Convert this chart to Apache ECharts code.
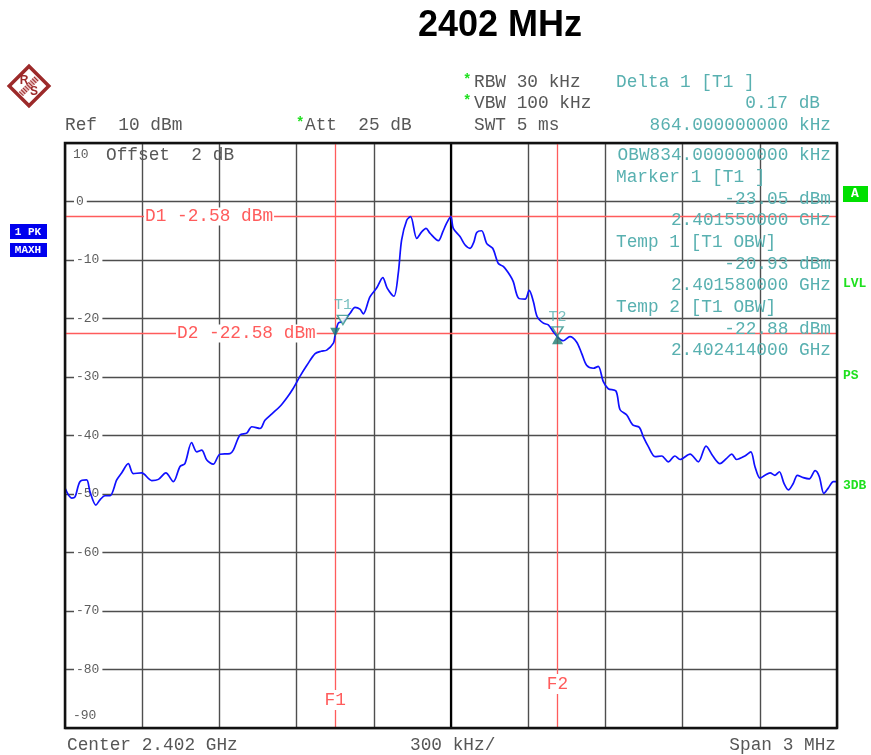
<!DOCTYPE html>
<html>
<head>
<meta charset="utf-8">
<title>2402 MHz</title>
<script src="https://cdn.jsdelivr.net/npm/echarts@6/dist/echarts.min.js"></script>
<style>
  html, body { margin: 0; padding: 0; background: #fff; }
  #main { width: 871px; height: 755px; }
</style>
</head>
<body>
<div id="main"></div>
<script>
// trace (frequency in MHz, level in dBm)
var freqMHz = [
  2400.500, 2400.526, 2400.539, 2400.558, 2400.584, 2400.597, 2400.620, 2400.636, 2400.655, 2400.675,
  2400.701, 2400.720, 2400.746, 2400.765, 2400.798, 2400.837, 2400.863, 2400.892, 2400.921, 2400.947,
  2400.966, 2400.992, 2401.012, 2401.031, 2401.051, 2401.076, 2401.102, 2401.141, 2401.154, 2401.180,
  2401.206, 2401.226, 2401.258, 2401.277, 2401.304, 2401.336, 2401.363, 2401.386, 2401.413, 2401.440,
  2401.472, 2401.495, 2401.517, 2401.543, 2401.549, 2401.562, 2401.581, 2401.608, 2401.627, 2401.646,
  2401.659, 2401.685, 2401.711, 2401.735, 2401.752, 2401.778, 2401.795, 2401.808, 2401.828, 2401.843,
  2401.867, 2401.886, 2401.903, 2401.918, 2401.951, 2401.968, 2401.983, 2401.999, 2402.009, 2402.035,
  2402.054, 2402.074, 2402.089, 2402.100, 2402.119, 2402.139, 2402.162, 2402.184, 2402.203, 2402.229,
  2402.242, 2402.262, 2402.288, 2402.304, 2402.320, 2402.335, 2402.359, 2402.378, 2402.398, 2402.417,
  2402.436, 2402.462, 2402.488, 2402.508, 2402.527, 2402.553, 2402.572, 2402.592, 2402.611, 2402.641,
  2402.657, 2402.683, 2402.706, 2402.732, 2402.747, 2402.767, 2402.793, 2402.819, 2402.844, 2402.870,
  2402.890, 2402.929, 2402.961, 2402.991, 2403.019, 2403.045, 2403.071, 2403.091, 2403.110, 2403.142,
  2403.165, 2403.181, 2403.201, 2403.220, 2403.240, 2403.259, 2403.276, 2403.294, 2403.311, 2403.330,
  2403.346, 2403.369, 2403.392, 2403.415, 2403.431, 2403.449, 2403.466, 2403.486, 2403.499
];
var levelDbm = [
  -49.0, -50.7, -50.5, -47.9, -47.6, -49.6, -51.9, -51.0, -50.3, -50.3,
  -47.6, -46.4, -44.8, -46.5, -46.4, -47.7, -47.5, -46.4, -47.9, -45.3,
  -44.8, -41.2, -42.8, -42.5, -44.2, -44.9, -43.2, -43.1, -42.5, -39.9,
  -39.6, -38.5, -38.8, -37.4, -36.3, -35.0, -33.5, -32.0, -29.9, -28.0,
  -26.0, -25.6, -25.4, -24.2, -23.0, -20.8, -20.5, -19.1, -18.1, -18.4,
  -19.2, -16.3, -14.8, -13.0, -14.8, -16.2, -12.3, -6.6, -3.2, -2.6,
  -6.3, -5.2, -4.6, -5.4, -6.7, -5.2, -3.7, -2.6, -4.6, -6.0,
  -7.4, -8.0, -6.9, -5.3, -5.0, -7.2, -8.0, -10.6, -11.1, -12.6,
  -13.7, -16.5, -16.7, -15.2, -17.1, -19.7, -20.8, -21.1, -22.3, -23.3,
  -23.8, -23.1, -24.0, -26.0, -28.0, -28.5, -28.2, -30.8, -32.0, -32.4,
  -35.6, -36.5, -38.2, -38.6, -40.2, -41.9, -43.6, -43.5, -44.5, -43.5,
  -44.1, -43.2, -44.5, -41.8, -43.6, -44.8, -43.9, -43.2, -44.1, -43.5,
  -42.8, -45.3, -47.3, -46.8, -46.4, -46.8, -46.2, -48.2, -49.3, -48.2,
  -46.8, -47.2, -47.4, -46.0, -47.0, -49.9, -49.0, -47.9, -47.9
];

// screen settings
var centerMHz = 2402;
var spanKHz = 3000;
var divKHz = 300;
var refDbm = 10;
var bottomDbm = -90;
var divDb = 10;

// display lines / frequency lines / markers
var displayLines = [-2.58, -22.58];
var displayNames = ['D1 -2.58 dBm', 'D2 -22.58 dBm'];
var freqLines = [2401.550, 2402.414];
var freqNames = ['F1', 'F2'];
var marker1 = [2401.550, -23.05];
var temp1 = [2401.580, -20.93];
var temp2 = [2402.414, -22.88];

// marker info block (upper right)
var infoLeft = ['', 'Marker 1 [T1 ]', '', '', 'Temp 1 [T1 OBW]', '', '', 'Temp 2 [T1 OBW]', '', ''];
var infoRight = ['OBW834.000000000 kHz', '', '-23.05 dBm', '2.401550000 GHz', '', '-20.93 dBm',
  '2.401580000 GHz', '', '-22.88 dBm', '2.402414000 GHz'];

var MONO = '"Liberation Mono", "DejaVu Sans Mono", monospace';
var GRAY = '#575757';
var TEAL = '#58b0b0';
var RED = '#ff5c5c';
var GREEN = '#1ee01e';
var BLUE = '#1010ff';

function toKHz(f) { return (f - centerMHz) * 1000; }

var trace = freqMHz.map(function (f, i) { return [toKHz(f), levelDbm[i]]; });

var chart = echarts.init(document.getElementById('main'));

var splitStyle = { lineStyle: { color: '#4e4e4e', width: 1.4 } };

var redLines = [{ xAxis: 0, lineStyle: { color: '#000', width: 2.2, type: 'solid' } }];
freqLines.forEach(function (f) {
  redLines.push({ xAxis: toKHz(f), lineStyle: { color: RED, width: 1.3, type: 'solid' } });
});
displayLines.forEach(function (d) {
  redLines.push({ yAxis: d, lineStyle: { color: RED, width: 1.3, type: 'solid' } });
});

var option = {
  animation: false,
  grid: { left: 65, top: 143, right: 34, bottom: 27, show: true, backgroundColor: '#fff', borderWidth: 0 },
  xAxis: {
    type: 'value', min: -spanKHz / 2, max: spanKHz / 2, interval: divKHz,
    axisLine: { show: false }, axisTick: { show: false }, axisLabel: { show: false },
    splitLine: splitStyle
  },
  yAxis: {
    type: 'value', min: bottomDbm, max: refDbm, interval: divDb,
    axisLine: { show: false }, axisTick: { show: false },
    axisLabel: {
      inside: true, margin: 9, showMinLabel: false, showMaxLabel: false,
      fontFamily: MONO, fontSize: 13, color: '#5e5e5e',
      backgroundColor: '#fff', padding: [0, 3, 0, 2]
    },
    splitLine: splitStyle
  },
  series: [
    {
      type: 'line', data: trace, showSymbol: false, z: 5, smooth: 0.3,
      lineStyle: { color: BLUE, width: 1.7 },
      markLine: { silent: true, symbol: 'none', label: { show: false }, data: redLines }
    },
    {
      // T1 marker (filled) and temp markers (outline)
      type: 'scatter', z: 6,
      data: [
        { value: [toKHz(marker1[0]), marker1[1]], symbol: 'triangle', symbolRotate: 180,
          symbolSize: [10, 9], symbolOffset: [0, -4], itemStyle: { color: '#1d7a70' } },
        { value: [toKHz(temp1[0]), temp1[1]], symbol: 'triangle', symbolRotate: 180,
          symbolSize: [11, 9], symbolOffset: [0, -4],
          itemStyle: { color: '#fff', borderColor: '#2a9088', borderWidth: 1.5 },
          label: { show: true, formatter: 'T1', position: 'top', distance: 2 } },
        { value: [toKHz(temp2[0]), temp2[1]], symbol: 'triangle',
          symbolSize: [11, 10], symbolOffset: [0, 4], itemStyle: { color: '#1d7a70' } },
        { value: [toKHz(temp2[0]), temp2[1]], symbol: 'triangle', symbolRotate: 180,
          symbolSize: [11, 9], symbolOffset: [0, -4],
          itemStyle: { color: 'rgba(255,255,255,0)', borderColor: '#2a9088', borderWidth: 1.5 },
          label: { show: true, formatter: 'T2', position: 'top', distance: 2 } }
      ],
      label: { fontFamily: MONO, fontSize: 15, color: TEAL }
    }
  ]
};
chart.setOption(option);

function px(f, db) { return chart.convertToPixel({ gridIndex: 0 }, [toKHz(f), db]); }

function txt(x, y, s, o) {
  o = o || {};
  return {
    type: 'text', x: x, y: y, z: 100, silent: true,
    style: {
      text: s, fill: o.fill || GRAY, align: o.align || 'left', verticalAlign: 'middle',
      font: o.font || ('17.8px ' + MONO),
      backgroundColor: o.bg, padding: o.pad
    }
  };
}

var g = [];
// title
g.push(txt(500, 26, '2402 MHz', { fill: '#000', align: 'center', font: 'bold 36px "Liberation Sans", Arial, sans-serif' }));

// R&S logo: diamond, striped band, R above and S below
var LOGO = '#9c2a2a';
g.push({ type: 'group', x: 29, y: 86, z: 100, silent: true, children: [
  { type: 'rect', rotation: Math.PI / 4, shape: { x: -14, y: -14, width: 28, height: 28 },
    style: { fill: '#fff', stroke: LOGO, lineWidth: 3.5 } },
  { type: 'line', shape: { x1: -8, y1: 8, x2: 8, y2: -8 },
    style: { stroke: '#e8c0c0', lineWidth: 6 } },
  { type: 'line', shape: { x1: -8, y1: 8, x2: 8, y2: -8 },
    style: { stroke: LOGO, lineWidth: 6, lineDash: [1, 1.6] } },
  { type: 'text', x: -5, y: -5, style: { text: 'R', fill: LOGO, font: 'bold 12px "Liberation Sans", sans-serif', align: 'center', verticalAlign: 'middle' } },
  { type: 'text', x: 5, y: 6, style: { text: 'S', fill: LOGO, font: 'bold 12px "Liberation Sans", sans-serif', align: 'center', verticalAlign: 'middle' } }
] });

// header settings
g.push(txt(65, 125, 'Ref  10 dBm'));
g.push(txt(296, 123, '*', { fill: GREEN, font: 'bold 14px ' + MONO }));
g.push(txt(305, 125, 'Att  25 dB'));
g.push(txt(463, 80, '*', { fill: GREEN, font: 'bold 14px ' + MONO }));
g.push(txt(474, 82, 'RBW 30 kHz'));
g.push(txt(463, 101, '*', { fill: GREEN, font: 'bold 14px ' + MONO }));
g.push(txt(474, 103, 'VBW 100 kHz'));
g.push(txt(474, 125, 'SWT 5 ms'));
g.push(txt(616, 82, 'Delta 1 [T1 ]', { fill: TEAL }));
g.push(txt(820, 103, '0.17 dB', { fill: TEAL, align: 'right' }));
g.push(txt(831, 125, '864.000000000 kHz', { fill: TEAL, align: 'right' }));

// marker info block inside the screen
var infoY = [155, 177, 199, 220, 242, 264, 285, 307, 329, 350];
infoY.forEach(function (y, i) {
  if (infoLeft[i]) g.push(txt(616, y, infoLeft[i], { fill: TEAL }));
  if (infoRight[i]) g.push(txt(831, y, infoRight[i], { fill: TEAL, align: 'right' }));
});

// in-screen level labels
g.push(txt(73, 155, '10', { font: '13px ' + MONO, fill: '#5e5e5e' }));
g.push(txt(106, 155, 'Offset  2 dB'));
g.push(txt(73, 716, '-90', { font: '13px ' + MONO, fill: '#5e5e5e' }));

// display line labels
var dX = [145, 177];
displayLines.forEach(function (d, i) {
  var p = px(2401, d);
  g.push(txt(dX[i] - 1, p[1], displayNames[i], { fill: RED, bg: '#fff', pad: [0, 1] }));
});
// frequency line labels
var fY = [700, 684];
freqLines.forEach(function (f, i) {
  var p = px(f, 0);
  g.push(txt(p[0], fY[i], freqNames[i], { fill: RED, align: 'center', bg: '#fff', pad: [1, 0] }));
});

// footer
g.push(txt(67, 745, 'Center 2.402 GHz'));
g.push(txt(410, 745, '300 kHz/'));
g.push(txt(836, 745, 'Span 3 MHz', { align: 'right' }));

// left trace info boxes
g.push({ type: 'rect', z: 100, shape: { x: 10, y: 224, width: 37, height: 15 }, style: { fill: '#0000ee' } });
g.push(txt(28, 232, '1 PK', { fill: '#fff', align: 'center', font: 'bold 11px ' + MONO }));
g.push({ type: 'rect', z: 100, shape: { x: 10, y: 243, width: 37, height: 14 }, style: { fill: '#0000ee' } });
g.push(txt(28, 250, 'MAXH', { fill: '#fff', align: 'center', font: 'bold 11px ' + MONO }));

// right status labels
g.push({ type: 'rect', z: 100, shape: { x: 843, y: 186, width: 25, height: 16 }, style: { fill: '#00e000' } });
g.push(txt(855, 194, 'A', { fill: '#fff', align: 'center', font: 'bold 13px ' + MONO }));
g.push(txt(843, 284, 'LVL', { fill: GREEN, font: 'bold 13px ' + MONO }));
g.push(txt(843, 376, 'PS', { fill: GREEN, font: 'bold 13px ' + MONO }));
g.push(txt(843, 486, '3DB', { fill: GREEN, font: 'bold 13px ' + MONO }));

// screen frame
var tl = px(centerMHz - spanKHz / 2000, refDbm);
var br = px(centerMHz + spanKHz / 2000, bottomDbm);
g.push({ type: 'rect', z: 90, silent: true,
  shape: { x: tl[0], y: tl[1], width: br[0] - tl[0], height: br[1] - tl[1] },
  style: { fill: 'none', stroke: '#111', lineWidth: 2.5 } });

chart.setOption({ graphic: g });
</script>
</body>
</html>
